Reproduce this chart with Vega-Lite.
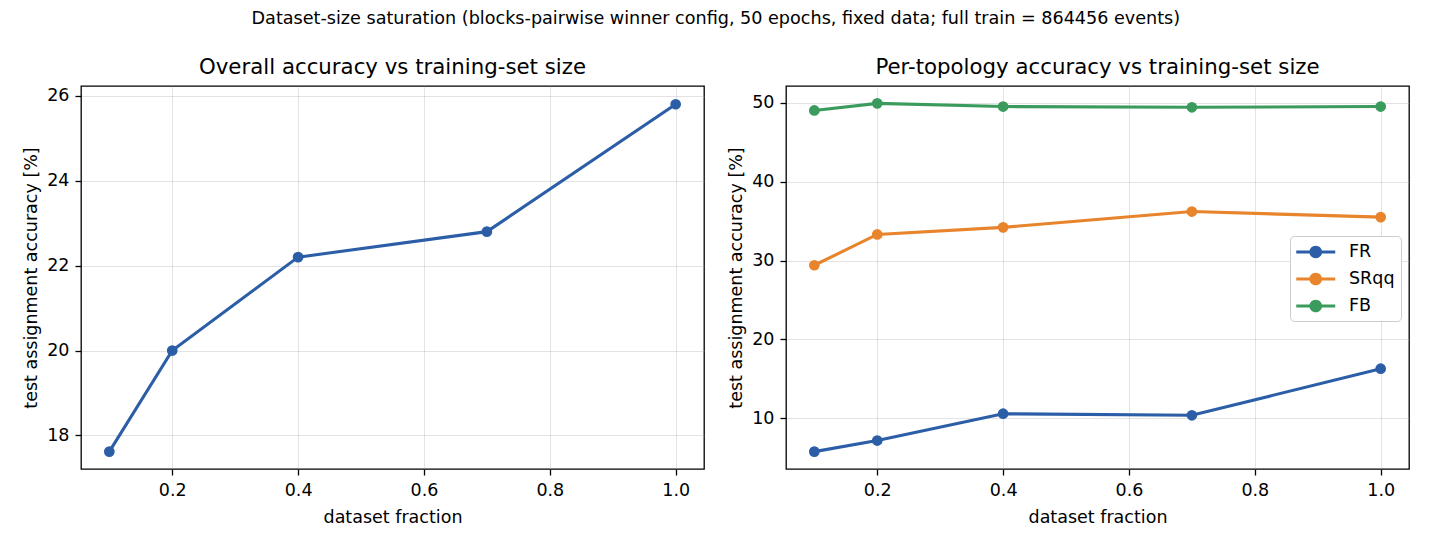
{
  "$schema": "https://vega.github.io/schema/vega-lite/v6.json",
  "background": "#ffffff",
  "padding": {"left": 22, "top": 10, "right": 18, "bottom": 4},
  "title": {
    "text": "Dataset-size saturation (blocks-pairwise winner config, 50 epochs, fixed data; full train = 864456 events)",
    "anchor": "middle",
    "fontSize": 17.6,
    "fontWeight": "normal",
    "offset": 28
  },
  "datasets": {
    "overall": [
      {"fraction": 0.1, "acc": 17.62},
      {"fraction": 0.2, "acc": 20.0},
      {"fraction": 0.4, "acc": 22.2},
      {"fraction": 0.7, "acc": 22.8},
      {"fraction": 1.0, "acc": 25.8}
    ],
    "topology": [
      {"fraction": 0.1, "topology": "FR", "acc": 5.8},
      {"fraction": 0.2, "topology": "FR", "acc": 7.2},
      {"fraction": 0.4, "topology": "FR", "acc": 10.6},
      {"fraction": 0.7, "topology": "FR", "acc": 10.4},
      {"fraction": 1.0, "topology": "FR", "acc": 16.3},
      {"fraction": 0.1, "topology": "SRqq", "acc": 29.4},
      {"fraction": 0.2, "topology": "SRqq", "acc": 33.3},
      {"fraction": 0.4, "topology": "SRqq", "acc": 34.2},
      {"fraction": 0.7, "topology": "SRqq", "acc": 36.2},
      {"fraction": 1.0, "topology": "SRqq", "acc": 35.5},
      {"fraction": 0.1, "topology": "FB", "acc": 49.0},
      {"fraction": 0.2, "topology": "FB", "acc": 49.9},
      {"fraction": 0.4, "topology": "FB", "acc": 49.5},
      {"fraction": 0.7, "topology": "FB", "acc": 49.4},
      {"fraction": 1.0, "topology": "FB", "acc": 49.5}
    ]
  },
  "spacing": 22,
  "resolve": {"scale": {"color": "independent"}, "legend": {"color": "independent"}},
  "hconcat": [
    {
      "width": 623,
      "height": 383,
      "title": {"text": "Overall accuracy vs training-set size", "frame": "group"},
      "data": {"name": "overall"},
      "mark": {
        "type": "line",
        "color": "#2b5ea7",
        "strokeWidth": 3.1,
        "point": {"filled": true, "size": 115, "color": "#2b5ea7", "opacity": 1}
      },
      "encoding": {
        "x": {
          "field": "fraction",
          "type": "quantitative",
          "scale": {"domain": [0.055, 1.045], "nice": false, "zero": false},
          "axis": {"title": "dataset fraction", "values": [0.2, 0.4, 0.6, 0.8, 1.0], "format": ".1f"}
        },
        "y": {
          "field": "acc",
          "type": "quantitative",
          "scale": {"domain": [17.21, 26.23], "nice": false, "zero": false},
          "axis": {"title": "test assignment accuracy [%]", "values": [18, 20, 22, 24, 26]}
        }
      }
    },
    {
      "width": 623,
      "height": 383,
      "title": {"text": "Per-topology accuracy vs training-set size", "frame": "group"},
      "data": {"name": "topology"},
      "mark": {
        "type": "line",
        "strokeWidth": 3.1,
        "point": {"filled": true, "size": 115, "opacity": 1}
      },
      "encoding": {
        "x": {
          "field": "fraction",
          "type": "quantitative",
          "scale": {"domain": [0.055, 1.045], "nice": false, "zero": false},
          "axis": {"title": "dataset fraction", "values": [0.2, 0.4, 0.6, 0.8, 1.0], "format": ".1f"}
        },
        "y": {
          "field": "acc",
          "type": "quantitative",
          "scale": {"domain": [3.6, 52.1], "nice": false, "zero": false},
          "axis": {"title": "test assignment accuracy [%]", "values": [10, 20, 30, 40, 50]}
        },
        "color": {
          "field": "topology",
          "type": "nominal",
          "sort": ["FR", "SRqq", "FB"],
          "scale": {"domain": ["FR", "SRqq", "FB"], "range": ["#2b5ea7", "#e8842c", "#3a9b5c"]},
          "legend": {
            "title": null,
            "orient": "none",
            "legendX": 504,
            "legendY": 150,
            "symbolType": "M-1,-0.16H3V0.16H-1Z M0.35,0A0.65,0.65 0 1,1 1.65,0A0.65,0.65 0 1,1 0.35,0Z",
            "symbolSize": 380,
            "symbolStrokeWidth": 0,
            "encode": {
              "symbols": {"update": {"fill": {"scale": "color", "field": "value"}, "opacity": {"value": 1}}}
            }
          }
        }
      }
    }
  ],
  "config": {
    "font": "DejaVu Sans",
    "view": {"stroke": "#000000", "strokeWidth": 1.3},
    "title": {"fontSize": 21.3, "fontWeight": "normal", "color": "#000000", "offset": 8},
    "axis": {
      "domain": false,
      "grid": true,
      "gridColor": "#b0b0b0",
      "gridOpacity": 0.35,
      "gridWidth": 1,
      "ticks": true,
      "tickColor": "#000000",
      "tickSize": 6,
      "tickWidth": 1.3,
      "labelFontSize": 17.5,
      "labelColor": "#000000",
      "labelPadding": 6,
      "titleFontSize": 17.5,
      "titleFontWeight": "normal",
      "titleColor": "#000000",
      "titlePadding": 6
    },
    "axisX": {"titlePadding": 10},
    "legend": {
      "fillColor": "#ffffff",
      "strokeColor": "#cccccc",
      "cornerRadius": 4,
      "padding": 6,
      "labelFontSize": 17.5,
      "labelColor": "#000000",
      "labelOffset": 33,
      "rowPadding": 8
    }
  }
}
